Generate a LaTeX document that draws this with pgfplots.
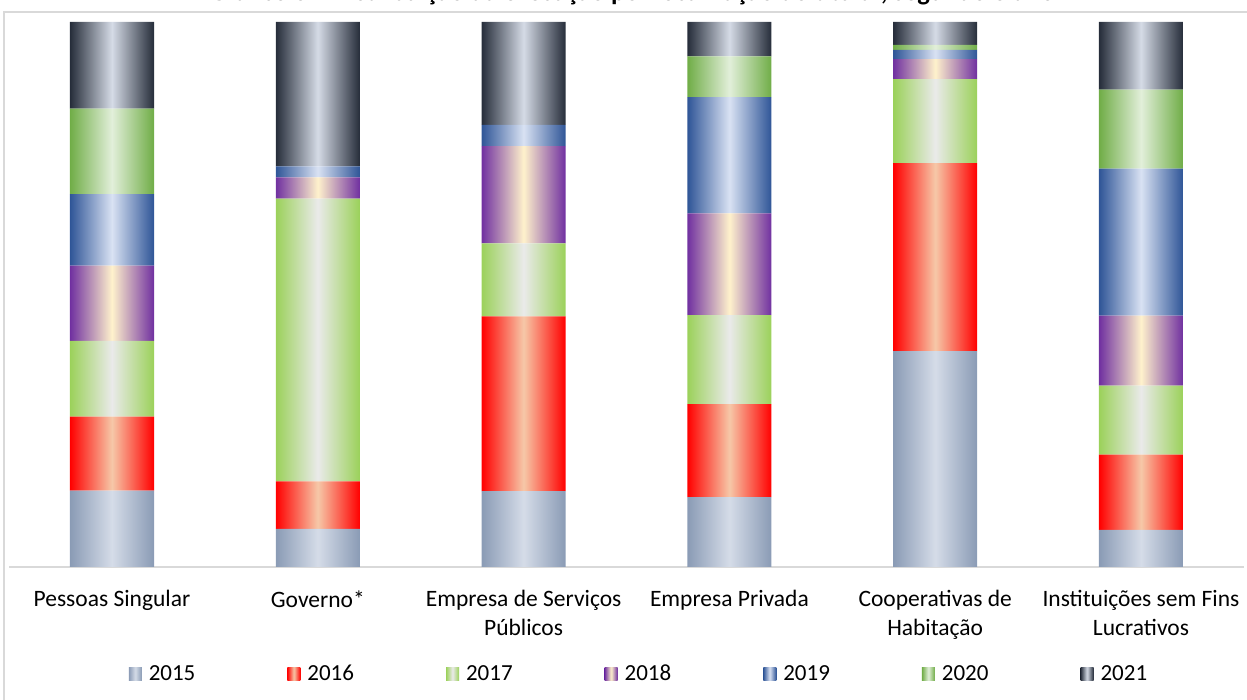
\documentclass[border=0pt]{standalone}
\usepackage{fontspec}
\setmainfont{Carlito}
\usepackage{pgfplots}
\pgfplotsset{compat=1.18}
\definecolor{axisgray}{HTML}{D9D9D9}
\definecolor{e15}{HTML}{8A9BB5}\definecolor{m15}{HTML}{D5DCE8}
\definecolor{e16}{HTML}{FF0000}\definecolor{m16}{HTML}{F6C8A8}
\definecolor{e17}{HTML}{9BD15A}\definecolor{m17}{HTML}{EAEAEA}
\definecolor{e18}{HTML}{7030A0}\definecolor{m18}{HTML}{FFF2CC}
\definecolor{e19}{HTML}{2F5597}\definecolor{m19}{HTML}{D9E2F3}
\definecolor{e20}{HTML}{70AD47}\definecolor{m20}{HTML}{E2EFDA}
\definecolor{e21}{HTML}{262D3A}\definecolor{m21}{HTML}{D5DBE6}
% one horizontal shading per series, with a light stripe in the middle of each of the six bars
\newcommand\barshade[3]{\pgfdeclarehorizontalshading{#1}{100bp}{%
 color(0bp)=(#2); color(25bp)=(#2); color(26.887bp)=(#3); color(28.774bp)=(#2);
 color(34.245bp)=(#2); color(36.132bp)=(#3); color(38.019bp)=(#2);
 color(43.491bp)=(#2); color(45.378bp)=(#3); color(47.264bp)=(#2);
 color(52.736bp)=(#2); color(54.623bp)=(#3); color(56.510bp)=(#2);
 color(61.981bp)=(#2); color(63.868bp)=(#3); color(65.755bp)=(#2);
 color(71.226bp)=(#2); color(73.113bp)=(#3); color(75bp)=(#2); color(100bp)=(#2)}}
\barshade{sh15}{e15}{m15}
\barshade{sh16}{e16}{m16}
\barshade{sh17}{e17}{m17}
\barshade{sh18}{e18}{m18}
\barshade{sh19}{e19}{m19}
\barshade{sh20}{e20}{m20}
\barshade{sh21}{e21}{m21}
\pgfplotsset{
  sbar/.style n args={3}{draw=none, shade, shading=#1, shading angle=0,
    legend image code/.code={\path[left color=#2, right color=#2, middle color=#3] (0pt,-6.5pt) rectangle (13pt,6.5pt);}},
}
\begin{document}
\begin{tikzpicture}
\draw[axisgray, line width=1.3pt] (4pt,0pt) -- (4pt,688pt) -- (1247pt,688pt);
\node[anchor=base, font=\bfseries\fontsize{26.5}{30}\selectfont] at (632pt,699.6pt)
  {Gráfico 3 – Distribuição da execução por localização do titular, segundo o ano};
\begin{axis}[
  at={(9.1pt,133pt)}, anchor=south west,
  scale only axis, width=1234.8pt, height=545pt,
  ymin=0, ymax=100, xmin=-0.5, xmax=5.5,
  ybar stacked, bar width=84pt,
  axis x line*=bottom, axis y line=none,
  x axis line style={draw=axisgray, line width=1.3pt, -},
  xtick={0,1,2,3,4,5},
  xticklabels={Pessoas Singular, Governo*, Empresa de Serviços\\Públicos, Empresa Privada, Cooperativas de\\Habitação, Instituições sem Fins\\Lucrativos},
  major tick length=0pt,
  xtick style={draw=none},
  xticklabel style={font=\fontsize{23.5}{29}\selectfont, align=center, anchor=north, yshift=-20pt},
  legend columns=7,
  legend style={at={(0.5093,-0.1963)}, anchor=center, draw=none, fill=none,
    font=\fontsize{23}{26}\selectfont,
    nodes={inner sep=0pt},
    /tikz/every odd column/.append style={column sep=7pt},
    /tikz/every even column/.append style={column sep=92pt, text height=15pt, text depth=1pt}},
]
\addplot[sbar={sh15}{e15}{m15}] coordinates {(0,14.0) (1,7.0) (2,13.9) (3,12.8) (4,39.6) (5,6.8)};
\addplot[sbar={sh16}{e16}{m16}] coordinates {(0,13.6) (1,8.7) (2,32.1) (3,17.1) (4,34.5) (5,13.8)};
\addplot[sbar={sh17}{e17}{m17}] coordinates {(0,13.9) (1,51.9) (2,13.4) (3,16.3) (4,15.4) (5,12.7)};
\addplot[sbar={sh18}{e18}{m18}] coordinates {(0,13.8) (1,3.9) (2,17.8) (3,18.7) (4,3.7) (5,12.8)};
\addplot[sbar={sh19}{e19}{m19}] coordinates {(0,13.1) (1,2.0) (2,3.9) (3,21.3) (4,1.7) (5,27.0)};
\addplot[sbar={sh20}{e20}{m20}] coordinates {(0,15.7) (1,0) (2,0) (3,7.5) (4,0.9) (5,14.5)};
\addplot[sbar={sh21}{e21}{m21}] coordinates {(0,15.9) (1,26.5) (2,18.9) (3,6.3) (4,4.2) (5,12.4)};
\legend{2015,2016,2017,2018,2019,2020,2021}
\end{axis}
\pgfresetboundingbox
\useasboundingbox (0pt,0pt) rectangle (1247pt,700pt);
\end{tikzpicture}
\end{document}
